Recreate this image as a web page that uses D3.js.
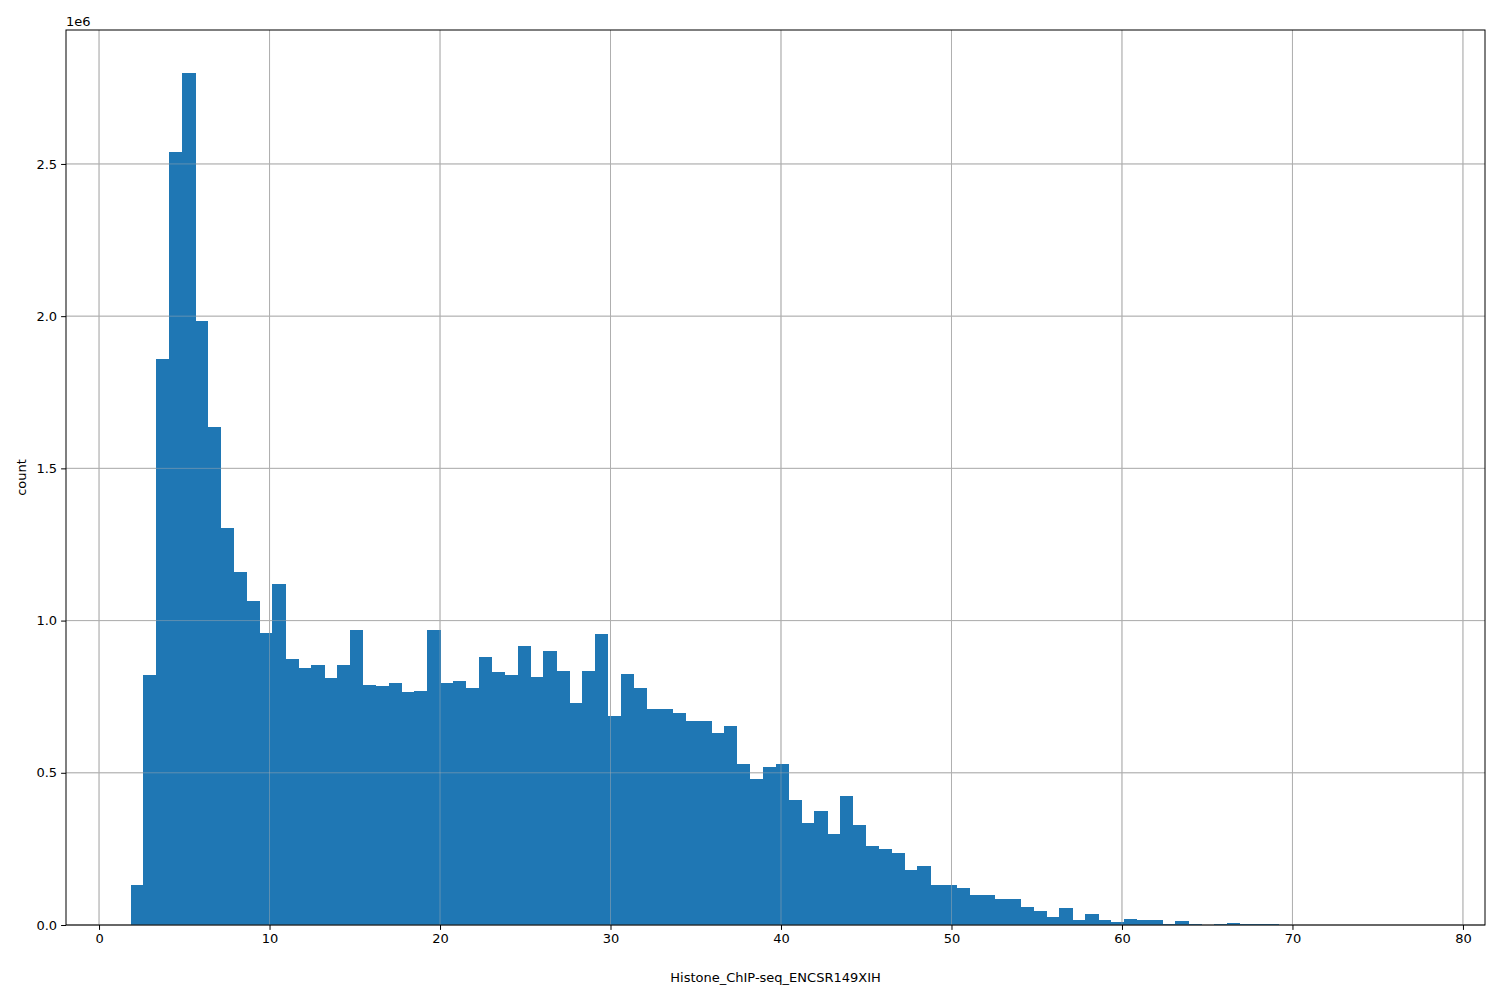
<!DOCTYPE html>
<html><head><meta charset="utf-8">
<script src="https://cdn.jsdelivr.net/npm/d3@7"></script>
<style>body{margin:0;background:#fff}svg{font-family:"DejaVu Sans",sans-serif}</style>
</head><body>
<svg id="c" width="1500" height="1000"></svg>
<script>
// histogram: 100 bins from binStart to binEnd, counts in millions
var binStart = 1.845, binEnd = 77.51;
var counts = [0.13,0.82,1.86,2.54,2.80,1.985,1.635,1.305,1.16,1.065,
  0.96,1.12,0.875,0.845,0.855,0.81,0.855,0.97,0.79,0.785,
  0.795,0.765,0.77,0.97,0.795,0.80,0.78,0.88,0.83,0.82,
  0.915,0.815,0.90,0.835,0.73,0.835,0.955,0.685,0.825,0.78,
  0.71,0.71,0.695,0.67,0.67,0.63,0.655,0.53,0.48,0.52,
  0.53,0.41,0.335,0.375,0.30,0.425,0.33,0.26,0.25,0.235,
  0.18,0.195,0.13,0.13,0.12,0.10,0.10,0.085,0.085,0.06,
  0.045,0.025,0.055,0.015,0.035,0.015,0.01,0.02,0.015,0.015,
  0.003,0.012,0.002,0.001,0.004,0.007,0.004,0.002,0.003,0.001,
  0.001,0.001,0.0005,0.0005,0.0003,0.0003,0.0002,0.0002,0.0001,0.0001];
var xTicks = [0,10,20,30,40,50,60,70,80];
var yTicks = [0,0.5,1.0,1.5,2.0,2.5];

var L=66,R=1485,T=30,B=925;
var svg=d3.select("#c");
var span=binEnd-binStart;
var x=d3.scaleLinear().domain([binStart-0.05*span,binEnd+0.05*span]).range([L,R]);
var y=d3.scaleLinear().domain([0,2.94]).range([B,T]);
var w=span/counts.length;

function grid(op){
  var g=svg.append("g").attr("stroke","#b0b0b0").attr("stroke-width",1).attr("stroke-opacity",op);
  g.selectAll(".vx").data(xTicks).enter().append("line")
    .attr("x1",d=>x(d)).attr("x2",d=>x(d)).attr("y1",T).attr("y2",B);
  g.selectAll(".hy").data(yTicks).enter().append("line")
    .attr("y1",d=>y(d)).attr("y2",d=>y(d)).attr("x1",L).attr("x2",R);
}
grid(1);

svg.append("g").attr("shape-rendering","crispEdges").selectAll("rect").data(counts).enter().append("rect")
  .attr("x",(d,i)=>x(binStart+i*w)).attr("width",(d,i)=>x(binStart+(i+1)*w)-x(binStart+i*w)+0.5)
  .attr("y",d=>y(d)).attr("height",d=>B-y(d)).attr("fill","#1f77b4");

grid(0.45);

svg.append("g").attr("transform","translate(0,"+B+")")
  .call(d3.axisBottom(x).tickValues(xTicks).tickFormat(d3.format("d")).tickSize(4.9).tickPadding(4))
  .call(a=>a.select(".domain").remove()).attr("font-size",13).attr("font-family",null);
svg.append("g").attr("transform","translate("+L+",0)")
  .call(d3.axisLeft(y).tickValues(yTicks).tickFormat(d3.format(".1f")).tickSize(4.9).tickPadding(4))
  .call(a=>a.select(".domain").remove()).attr("font-size",13).attr("font-family",null);

svg.append("rect").attr("x",L).attr("y",T).attr("width",R-L).attr("height",B-T)
  .attr("fill","none").attr("stroke","#000").attr("stroke-width",1);

svg.append("text").attr("x",L).attr("y",T-4).attr("font-size",13).text("1e6");
svg.append("text").attr("x",(L+R)/2).attr("y",982).attr("text-anchor","middle").attr("font-size",13).text("Histone_ChIP-seq_ENCSR149XIH");
svg.append("text").attr("transform","translate(26,"+((T+B)/2)+") rotate(-90)").attr("text-anchor","middle").attr("font-size",13).text("count");
</script>
</body></html>
